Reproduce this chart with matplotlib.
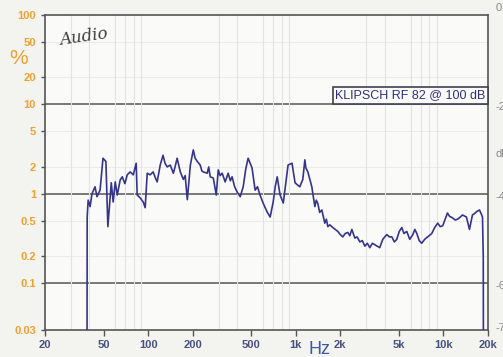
import matplotlib.pyplot as plt
from matplotlib.ticker import FixedLocator, NullFormatter

# distortion (%) vs frequency (Hz), as (Hz, %) pairs
curve = [
    (38.5, 0.01), (38.6, 0.55), (39.2, 0.85), (40.4, 0.72), (41.6, 1.0),
    (43.6, 1.2), (45.0, 0.93), (47.2, 1.1), (49.4, 2.5), (51.7, 2.3),
    (53.3, 0.43), (56.2, 1.33), (57.9, 0.81), (59.8, 1.36), (61.7, 0.97),
    (64.6, 1.43), (66.7, 1.55), (69.5, 1.3), (72.1, 1.63), (75.5, 1.76),
    (79.2, 1.63), (82.9, 2.2), (84.2, 0.97), (88.3, 0.9), (92.5, 0.81),
    (95.4, 0.7), (98.5, 1.7), (103, 1.63), (108, 1.76), (112, 1.5),
    (115, 1.36), (120.6, 2.1), (126, 2.7), (130, 2.2), (134.5, 2.0),
    (141, 2.1), (148, 1.7), (152, 2.0), (157, 2.5), (165, 1.76),
    (173, 1.45), (178, 1.6), (184, 0.86), (193, 2.1), (202, 3.1),
    (208, 2.5), (215, 2.3), (225, 2.1), (231, 1.8), (236, 1.76),
    (251, 1.7), (257, 2.0), (263, 1.55), (276, 1.5), (289, 0.97),
    (298, 1.85), (307, 1.6), (317, 1.7), (332, 1.36), (348, 1.7),
    (360, 1.4), (370, 1.55), (385, 1.2), (400, 1.05), (420, 0.93),
    (440, 1.2), (458, 1.9), (475, 2.5), (505, 1.95), (530, 1.1),
    (550, 1.2), (572, 0.97), (600, 0.79), (638, 0.63), (670, 0.55),
    (702, 0.81), (725, 1.2), (748, 1.55), (782, 0.97), (822, 0.79),
    (886, 2.1), (942, 2.2), (988, 1.33), (1030, 1.25), (1064, 1.2),
    (1115, 1.45), (1151, 2.4), (1169, 1.95), (1206, 1.76), (1283, 1.2),
    (1345, 0.72), (1375, 0.85), (1409, 0.78), (1450, 0.62), (1500, 0.66),
    (1571, 0.47), (1610, 0.52), (1647, 0.43), (1700, 0.45), (1780, 0.42),
    (1850, 0.40), (1925, 0.38), (2000, 0.35), (2080, 0.33), (2160, 0.36),
    (2250, 0.37), (2320, 0.34), (2395, 0.4), (2510, 0.32), (2600, 0.33),
    (2715, 0.29), (2820, 0.3), (2934, 0.26), (3050, 0.28), (3170, 0.25),
    (3300, 0.28), (3425, 0.27), (3560, 0.26), (3700, 0.25), (3880, 0.31),
    (4130, 0.35), (4300, 0.33), (4470, 0.33), (4650, 0.29), (4830, 0.31),
    (5020, 0.38), (5220, 0.42), (5400, 0.36), (5640, 0.38), (5910, 0.31),
    (6200, 0.35), (6400, 0.4), (6600, 0.36), (6850, 0.30), (7120, 0.28),
    (7460, 0.31), (7820, 0.33), (8330, 0.36), (8720, 0.42), (9140, 0.47),
    (9500, 0.43), (9890, 0.44), (10640, 0.61), (11000, 0.56), (11510, 0.54),
    (12000, 0.51), (12440, 0.52), (13000, 0.55), (13450, 0.58),
    (14310, 0.55), (15000, 0.4), (15710, 0.58), (16200, 0.6), (16720, 0.63),
    (17530, 0.66), (18000, 0.6), (18380, 0.55), (18600, 0.2), (18660, 0.01),
]
freq = [p[0] for p in curve]
dist = [p[1] for p in curve]

yticks = [100, 50, 20, 10, 5, 2, 1, 0.5, 0.2, 0.1, 0.03]
ylabels = ['100', '50', '20', '10', '5', '2', '1', '0.5', '0.2', '0.1', '0.03']
xticks = [20, 50, 100, 200, 500, 1000, 2000, 5000, 10000, 20000]
xlabels = ['20', '50', '100', '200', '500', '1k', '2k', '5k', '10k', '20k']
db_labels = ['0', '-20', 'dB', '-40', '-60', '-70']
db_pos = [0.978, 0.70, 0.57, 0.448, 0.20, 0.082]

plt.rcParams['font.family'] = ['Liberation Sans', 'DejaVu Sans']
fig = plt.figure(figsize=(5.03, 3.57), dpi=100, facecolor='#f3f3ef')
ax = fig.add_axes([0.0895, 0.0756, 0.8805, 0.8824], facecolor='#fafaf8')

ax.set_xscale('log')
ax.set_yscale('log')
ax.set_xlim(20, 20000)
ax.set_ylim(0.03, 100)

# faint grid
minor_x = [f * m for f in (10, 100, 1000, 10000) for m in range(2, 10)]
ax.xaxis.set_minor_locator(FixedLocator([f for f in minor_x if 20 < f < 20000]))
ax.xaxis.set_minor_formatter(NullFormatter())
ax.grid(which='minor', axis='x', color='#e3e3e0', lw=0.8)
for v in [50, 20, 5, 2, 0.5, 0.2]:
    ax.axhline(v, color='#ebebe8', lw=0.8, zorder=0)
for v in [10, 1, 0.1]:
    ax.axhline(v, color='#555555', lw=1.1, zorder=1)

ax.plot(freq, dist, color='#35358c', lw=1.2, zorder=3)

ax.set_yticks(yticks)
ax.set_yticklabels(ylabels)
ax.yaxis.set_minor_locator(FixedLocator([]))
ax.set_xticks(xticks)
ax.set_xticklabels(xlabels)
ax.tick_params(axis='y', colors='#555555', labelcolor='#f0a030', labelsize=8,
               length=3, width=1)
ax.tick_params(axis='x', colors='#555555', labelcolor='#4a5080', labelsize=8,
               length=4, width=1)
ax.tick_params(which='minor', length=0)
for t in ax.get_yticklabels() + ax.get_xticklabels():
    t.set_fontweight('bold')
for s in ax.spines.values():
    s.set_color('#555555')
    s.set_linewidth(1.2)

fig.text(0.036, 0.835, '%', color='#f0a030', fontsize=15, ha='center', va='center')
fig.text(0.636, 0.02, 'Hz', color='#3a5aa8', fontsize=13, ha='center', va='center')

ax.text(0.995, 0.745, 'KLIPSCH RF 82 @ 100 dB', transform=ax.transAxes,
        ha='right', va='center', fontsize=9, color='#303080',
        bbox=dict(boxstyle='square,pad=0.2', fc='#fafaf8', ec='#404050', lw=1.2))
ax.text(0.03, 0.905, 'Audio', transform=ax.transAxes, fontsize=12,
        style='italic', family='DejaVu Serif', color='#404040', rotation=8)

for lab, yp in zip(db_labels, db_pos):
    fig.text(0.986, yp, lab, color='#888888', fontsize=8, va='center')

fig.savefig('out.png', dpi=100, facecolor=fig.get_facecolor())
